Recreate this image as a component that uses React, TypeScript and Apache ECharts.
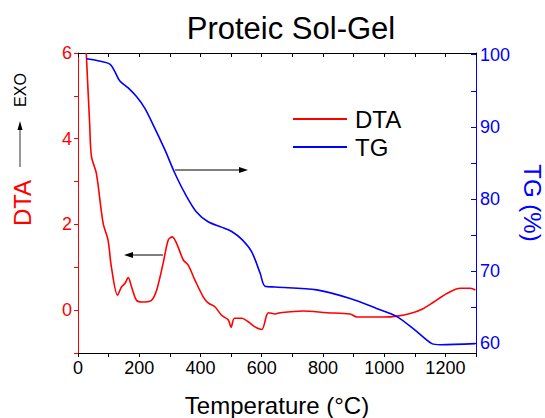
import React, { useEffect, useRef } from "react";
import * as echarts from "echarts";

const dtaData: [number, number][] = [
  [27, 6.0], [38, 4.36], [44, 3.58], [60, 3.19], [82, 2.03], [98, 1.64], [109, 1.01],
  [129, 0.35], [142, 0.54], [153, 0.62], [164, 0.76], [175, 0.54], [191, 0.23],
  [207, 0.19], [240, 0.23], [257, 0.47], [278, 1.09], [295, 1.64], [308, 1.71],
  [322, 1.56], [344, 1.17], [360, 1.05], [382, 0.7], [409, 0.31], [425, 0.17],
  [447, 0.08], [469, -0.12], [491, -0.23], [500, -0.4], [511, -0.19], [535, -0.19],
  [556, -0.27], [578, -0.39], [600, -0.45], [616, -0.12], [622, -0.06], [644, -0.09],
  [660, -0.06], [736, -0.02], [813, -0.06], [889, -0.09], [911, -0.16], [998, -0.16],
  [1042, -0.14], [1085, -0.08], [1129, 0.04], [1162, 0.19], [1205, 0.39], [1249, 0.51],
  [1282, 0.51], [1298, 0.47],
];

const tgData: [number, number][] = [
  [27, 99.44], [65, 99.17], [104, 98.7], [120, 97.7], [136, 96.4], [164, 95.4],
  [191, 94.2], [218, 92.6], [251, 89.8], [284, 86.8], [316, 83.6], [349, 80.8],
  [387, 78.2], [425, 76.85], [469, 76.1], [502, 75.5], [535, 74.4], [567, 72.7],
  [595, 69.7], [611, 67.9], [644, 67.8], [780, 67.4], [889, 66.2], [977, 64.8],
  [1042, 63.7], [1107, 61.6], [1156, 59.95], [1184, 59.8], [1298, 59.95],
];

const tgLabels = [60, 70, 80, 90, 100];
const tgTicks = [60, 65, 70, 75, 80, 85, 90, 95, 100];

const RED = "#ff0000";
const BLUE = "#0000ff";
const FONT = "Liberation Sans, Arial, sans-serif";

export default function App() {
  const ref = useRef<HTMLDivElement>(null);
  useEffect(() => {
    document.body.style.margin = "0";
    if (!ref.current) return;
    const chart = echarts.init(ref.current, null, { renderer: "svg" });
    chart.setOption({
      animation: false,
      backgroundColor: "#ffffff",
      textStyle: { fontFamily: FONT },
      title: {
        text: "Proteic Sol-Gel",
        left: 286,
        top: 8,
        textAlign: "center",
        textStyle: { fontSize: 31, fontWeight: "normal", color: "#000", fontFamily: FONT },
      },
      legend: {
        data: [
          { name: "DTA", icon: "rect" },
          { name: "TG", icon: "rect" },
        ],
        orient: "vertical",
        left: 293,
        top: 107,
        padding: 0,
        itemWidth: 54,
        itemHeight: 2,
        itemGap: 4,
        textStyle: { fontSize: 24, color: "#000", fontFamily: FONT, padding: [0, 0, 0, 3] },
      },
      grid: {
        left: 78,
        right: 69,
        top: 53,
        bottom: 65,
        containLabel: false,
        outerBoundsMode: "none",
      },
      xAxis: [
        {
          type: "value",
          min: 0,
          max: 1300,
          interval: 100,
          position: "bottom",
          name: "Temperature (°C)",
          nameLocation: "middle",
          nameGap: 40,
          nameTextStyle: { fontSize: 24, color: "#000", fontFamily: FONT },
          axisLine: { onZero: false, lineStyle: { color: "#000", width: 1 } },
          axisTick: { inside: false, length: 4, lineStyle: { color: "#000" } },
          axisLabel: {
            fontSize: 18,
            color: "#000",
            margin: 6,
            formatter: (v: number) => (v % 200 === 0 ? String(v) : ""),
          },
          splitLine: { show: false },
        },
        {
          type: "value",
          min: 0,
          max: 1300,
          interval: 100,
          position: "top",
          axisLine: { onZero: false, lineStyle: { color: "#000", width: 1 } },
          axisTick: { inside: true, length: 4, lineStyle: { color: "#000" } },
          axisLabel: { show: false },
          splitLine: { show: false },
        },
      ],
      yAxis: [
        {
          type: "value",
          min: -1,
          max: 6,
          interval: 1,
          position: "left",
          name: "DTA",
          nameLocation: "middle",
          nameGap: 44,
          nameTextStyle: { fontSize: 24, color: RED, fontFamily: FONT },
          axisLine: { show: true, onZero: false, lineStyle: { color: RED, width: 1 } },
          axisTick: { show: true, inside: false, length: 4, lineStyle: { color: RED } },
          axisLabel: {
            fontSize: 18,
            color: RED,
            margin: 6,
            formatter: (v: number) => (v >= 0 && v % 2 === 0 ? String(v) : ""),
          },
          splitLine: { show: false },
        },
        {
          type: "value",
          min: 58.65,
          max: 100.24,
          position: "right",
          name: "TG (%)",
          nameLocation: "middle",
          nameGap: 40,
          nameRotate: -90,
          nameTextStyle: { fontSize: 24, color: BLUE, fontFamily: FONT },
          axisLine: { show: true, onZero: false, lineStyle: { color: BLUE, width: 1 } },
          axisTick: {
            show: true,
            inside: true,
            length: 5,
            customValues: tgTicks,
            lineStyle: { color: BLUE },
          },
          axisLabel: {
            fontSize: 18,
            color: BLUE,
            margin: 4,
            customValues: tgLabels,
          },
          splitLine: { show: false },
        },
      ],
      series: [
        {
          name: "DTA",
          type: "line",
          xAxisIndex: 0,
          yAxisIndex: 0,
          data: dtaData,
          smooth: 0.3,
          symbol: "none",
          lineStyle: { color: RED, width: 1.6 },
          itemStyle: { color: RED },
          clip: true,
        },
        {
          name: "TG",
          type: "line",
          xAxisIndex: 0,
          yAxisIndex: 1,
          data: tgData,
          smooth: 0.3,
          symbol: "none",
          lineStyle: { color: BLUE, width: 1.6 },
          itemStyle: { color: BLUE },
          clip: true,
        },
      ],
      graphic: [
        { type: "line", shape: { x1: 163, y1: 255, x2: 130, y2: 255 }, style: { stroke: "#000", lineWidth: 1 } },
        { type: "polygon", shape: { points: [[124, 255], [133, 252], [133, 258]] }, style: { fill: "#000" } },
        { type: "line", shape: { x1: 175, y1: 170, x2: 241, y2: 170 }, style: { stroke: "#000", lineWidth: 1 } },
        { type: "polygon", shape: { points: [[248, 170], [239, 167], [239, 173]] }, style: { fill: "#000" } },
        { type: "line", shape: { x1: 20, y1: 167, x2: 20, y2: 128 }, style: { stroke: "#333", lineWidth: 1 } },
        { type: "polygon", shape: { points: [[20, 121], [17.5, 130], [22.5, 130]] }, style: { fill: "#000" } },
        {
          type: "text",
          x: 20,
          y: 90,
          rotation: Math.PI / 2,
          style: {
            text: "EXO",
            fontSize: 16,
            fill: "#000",
            fontFamily: FONT,
            align: "center",
            verticalAlign: "middle",
          },
        },
      ],
    });
    return () => chart.dispose();
  }, []);
  return <div ref={ref} style={{ width: 545, height: 418 }} />;
}
